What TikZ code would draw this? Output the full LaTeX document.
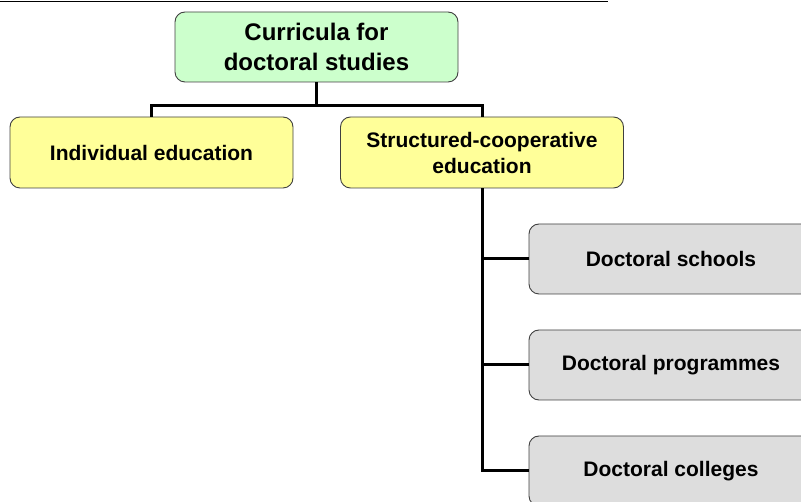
\documentclass[tikz,border=0pt]{standalone}
\usepackage{fontspec}
\setmainfont{Liberation Sans}
\definecolor{rootgreen}{HTML}{CCFFCC}
\definecolor{midyellow}{HTML}{FFFF99}
\definecolor{leafgrey}{HTML}{DDDDDD}
\definecolor{edgegrey}{HTML}{404040}

\begin{document}
\begin{tikzpicture}[x = 1pt, y = 1pt]
		\tikzstyle{every node} = [font = \bfseries\fontsize{21}{26}\selectfont]
		\tikzstyle{box} = [draw = edgegrey, line width = .9pt, rounded corners = 10pt, align = center, inner sep = 0pt, minimum width = 283pt, minimum height = 70pt]
		\tikzstyle{link} = [line width = 3pt]
		
		\useasboundingbox (0,0) rectangle (801,-502);
		\draw[line width = 1pt] (0,-2) -- (608,-2); %rule at the top
		
		\node[box, fill = rootgreen, font = \bfseries\fontsize{24}{30}\selectfont] (curricula) at (316.5,-47) {Curricula for\\doctoral studies};
		\node[box, fill = midyellow, minimum height = 71pt] (individual) at (151.5,-152.5) {Individual education};
		\node[box, fill = midyellow, minimum height = 71pt] (structured) at (482,-152.5) {Structured-cooperative\\education};
		
		\foreach \name/\y/\txt in {schools/-259/Doctoral schools, programmes/-365/Doctoral programmes, colleges/-471/Doctoral colleges}
		{
			\node[box, fill = leafgrey, minimum width = 284pt] (\name) at (671,\y) {\txt};
		}
		
		\coordinate (split) at (316.5,-106);
		\draw[link] (curricula.south) -- (split);
		\draw[link] (individual.north) |- (split) -| (structured.north); %to both branches
		
		\draw[link] (structured.south) |- (colleges.west);
		\draw[link] (structured.south |- schools.west) -- (schools.west);
		\draw[link] (structured.south |- programmes.west) -- (programmes.west);
	\end{tikzpicture}
\end{document}
